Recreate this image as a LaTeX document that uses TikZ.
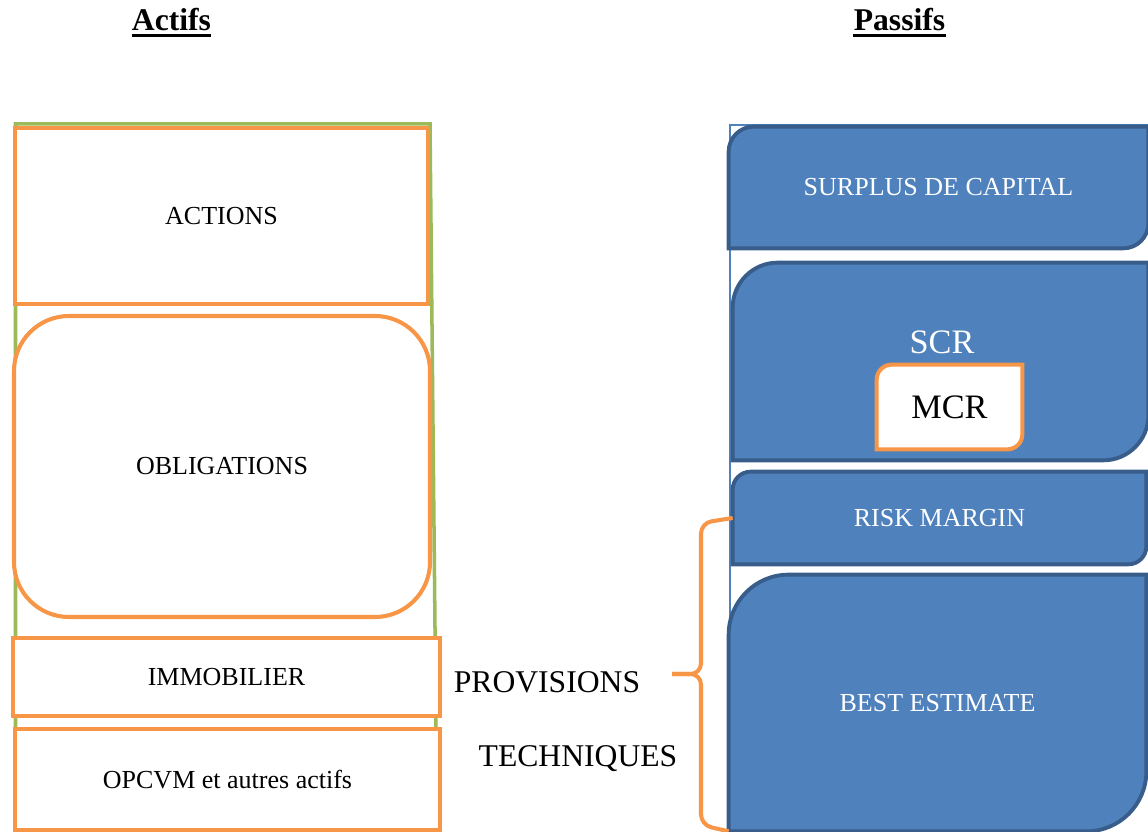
\documentclass[tikz,border=0pt]{standalone}
\usepackage{fontspec}
\setmainfont{Liberation Serif}
\usepackage{tikz}
\usetikzlibrary{backgrounds}
\definecolor{orangeline}{RGB}{247,150,70}
\definecolor{greenline}{RGB}{155,187,89}
\definecolor{bluefill}{RGB}{79,129,189}
\definecolor{blueline}{RGB}{56,93,138}
\tikzset{
  actif/.style = {draw=orangeline, line width=2.3pt, fill=white, inner sep=0pt, font=\fontsize{14.8}{17}\selectfont},
  passif/.style = {inner sep=0pt, text=white, font=\fontsize{14.8}{17}\selectfont},
  titre/.style = {inner sep=0pt, font=\bfseries\fontsize{18}{22}\selectfont},
  grand/.style = {inner sep=0pt, font=\fontsize{19.5}{23}\selectfont},
  bleu/.style = {fill=bluefill, draw=blueline, line width=2.2pt},
  mcrbox/.style = {fill=white, draw=orangeline, line width=2.3pt},
  cadre/.style = {draw=bluefill, line width=0.8pt},
  accolade/.style = {draw=orangeline, line width=2.3pt, rounded corners=6pt}
}
% box with rounded top left and bottom right corners
\newcommand{\Coin}[3]{%
  \filldraw[#3] ([yshift=-#2]#1.north west) arc[start angle=180, end angle=90, radius=#2]
    -- (#1.north east) -- ([yshift=#2]#1.south east)
    arc[start angle=0, end angle=-90, radius=#2] -- (#1.south west) -- cycle;}

\begin{document}
\begin{tikzpicture}
\useasboundingbox (0,0) rectangle (22.96,16.64);

% titres
\node[titre, anchor=base] (actifs) at (3.43,16.02) {Actifs};
\node[titre, anchor=base] (passifs) at (17.99,16.02) {Passifs};
\draw[line width=1.7pt] ([yshift=-2.3pt]actifs.base west) -- ([yshift=-2.3pt]actifs.base east);
\draw[line width=1.7pt] ([yshift=-2.3pt]passifs.base west) -- ([yshift=-2.3pt]passifs.base east);

% actifs
\draw[greenline, line width=2pt] (0.31,0.04) -- (0.31,14.16) -- (8.60,14.16) -- (8.74,0.04);
\node[actif, minimum width=8.26cm, minimum height=3.52cm] (actions) at (4.43,12.32) {ACTIONS};
\node[actif, rounded corners=1.1cm, minimum width=8.32cm, minimum height=6.02cm] (oblig) at (4.44,7.31) {OBLIGATIONS};
\node[actif, minimum width=8.54cm, minimum height=1.56cm] (immo) at (4.53,3.10) {IMMOBILIER};
\node[actif, minimum width=8.5cm, minimum height=2.02cm] (opcvm) at (4.55,1.05) {OPCVM et autres actifs};

% passifs
\node[passif, minimum width=8.38cm, minimum height=2.42cm] (surplus) at (18.77,12.89) {SURPLUS DE CAPITAL};
\node[passif, minimum width=8.3cm, minimum height=3.94cm] (scr) at (18.81,9.41) {};
\node[grand, text=white] (scrtxt) at (18.84,9.80) {SCR};
\node[grand, minimum width=2.9cm, minimum height=1.68cm] (mcr) at (18.99,8.50) {MCR};
\node[passif, minimum width=8.26cm, minimum height=1.84cm] (risk) at (18.79,6.28) {RISK MARGIN};
\node[passif, minimum width=8.34cm, minimum height=5.12cm] (best) at (18.75,2.58) {BEST ESTIMATE};

\begin{pgfonlayer}{background}
\draw[cadre] (14.6,0) -- (14.6,14.14) -- (22.96,14.14);
\Coin{surplus}{0.5cm}{bleu}
\Coin{scr}{0.9cm}{bleu}
\Coin{mcr}{0.3cm}{mcrbox}
\Coin{risk}{0.36cm}{bleu}
\Coin{best}{1.2cm}{bleu}
\end{pgfonlayer}

% provisions techniques
\coordinate (pointe) at (13.44,3.16);
\draw[accolade] (risk.west) -- (14.02,6.18) -- (14.02,3.16) -- (pointe);
\draw[accolade] (best.south west) -- (14.02,0.14) -- (14.02,3.16) -- (pointe);
\node[grand, font=\fontsize{18}{22}\selectfont, anchor=base] (prov) at (10.94,2.79) {PROVISIONS};
\node[grand, font=\fontsize{18}{22}\selectfont, anchor=base] (tech) at (11.56,1.31) {TECHNIQUES};
\end{tikzpicture}
\end{document}
